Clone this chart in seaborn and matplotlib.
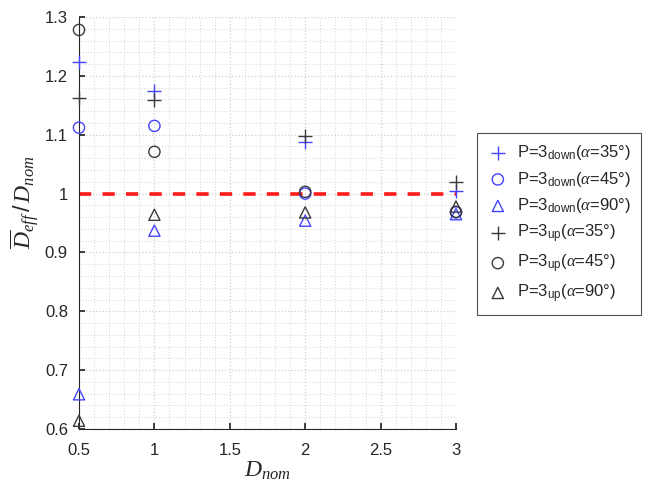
import numpy as np
import pandas as pd
import matplotlib
matplotlib.use("Agg")
import matplotlib.pyplot as plt
import seaborn as sns
from matplotlib.ticker import MultipleLocator

sns.set_theme(style="white")
plt.rcParams['font.family'] = ['Liberation Sans', 'DejaVu Sans']
plt.rcParams['mathtext.fontset'] = 'custom'
plt.rcParams['mathtext.rm'] = 'Liberation Sans'
plt.rcParams['mathtext.it'] = 'Liberation Serif:italic'
plt.rcParams['mathtext.bf'] = 'Liberation Sans:bold'

# Data
d_nom = [0.5, 1, 2, 3]
down_35 = [1.224, 1.175, 1.088, 1.005]
down_45 = [1.112, 1.115, 1.000, 0.968]
down_90 = [0.659, 0.937, 0.954, 0.965]
up_35 = [1.163, 1.159, 1.097, 1.019]
up_45 = [1.278, 1.071, 1.003, 0.969]
up_90 = [0.614, 0.964, 0.968, 0.978]

labels = [r'P=3$_{\mathrm{down}}$($\alpha$=35°)',
          r'P=3$_{\mathrm{down}}$($\alpha$=45°)',
          r'P=3$_{\mathrm{down}}$($\alpha$=90°)',
          r'P=3$_{\mathrm{up}}$($\alpha$=35°)',
          r'P=3$_{\mathrm{up}}$($\alpha$=45°)',
          r'P=3$_{\mathrm{up}}$($\alpha$=90°)']
series = [down_35, down_45, down_90, up_35, up_45, up_90]
blue = '#4444ff'
dark = '#3a3a3a'
colors = [blue, blue, blue, dark, dark, dark]
markers = ['+', 'o', '^', '+', 'o', '^']

fig = plt.figure(figsize=(6.49, 4.82), dpi=100)
ax = fig.add_axes([79 / 649, 1 - 429 / 482, 377 / 649, 412 / 482])

for vals, lab, c, m in zip(series, labels, colors, markers):
    df = pd.DataFrame({'x': d_nom, 'y': vals})
    if m == '+':
        sns.scatterplot(data=df, x='x', y='y', ax=ax, marker=m, color=c,
                        s=90, linewidth=1.0, label=lab, clip_on=False,
                        zorder=3)
    else:
        sns.scatterplot(data=df, x='x', y='y', ax=ax, marker=m, color=c,
                        facecolor='none', edgecolor=c, s=65, linewidth=1.0,
                        label=lab, clip_on=False, zorder=3)

ax.axhline(1.0, color='#ff1a1a', ls=(0, (3.4, 3.1)), lw=2.6, zorder=2)

ax.set_xlim(0.5, 3)
ax.set_ylim(0.6, 1.3)
ax.xaxis.set_minor_locator(MultipleLocator(0.1))
ax.yaxis.set_minor_locator(MultipleLocator(0.02))
ax.set_xticks([0.5, 1, 1.5, 2, 2.5, 3])
ax.set_xticklabels(['0.5', '1', '1.5', '2', '2.5', '3'])
ax.set_yticks([0.6, 0.7, 0.8, 0.9, 1.0, 1.1, 1.2, 1.3])
ax.set_yticklabels(['0.6', '0.7', '0.8', '0.9', '1', '1.1', '1.2', '1.3'])
ax.grid(True, which='major', color='#d0d0d0', ls=':', lw=0.9)
ax.grid(True, which='minor', color='#dcdcdc', ls=':', lw=0.8)
ax.set_axisbelow(True)

for s in ['top', 'right']:
    ax.spines[s].set_visible(False)
for s in ['left', 'bottom']:
    ax.spines[s].set_color('#262626')
    ax.spines[s].set_linewidth(0.8)
ax.tick_params(axis='x', which='major', direction='in', length=4,
               labelsize=12, colors='#262626', bottom=True, pad=10)
ax.tick_params(axis='y', which='major', direction='in', length=4,
               labelsize=12, colors='#262626', left=True, pad=8)
ax.tick_params(axis='both', which='minor', length=0)

ax.set_xlabel(r'$D_{nom}$', fontsize=17)
ax.xaxis.set_label_coords(0.5, -0.075)
ax.set_ylabel(r'$\overline{D}_{eff}\,/\,D_{nom}$', fontsize=17)
ax.yaxis.set_label_coords(-0.10, 0.55)

leg = ax.legend(loc='center left', bbox_to_anchor=(477 / 649, 1 - 224 / 482),
                bbox_transform=fig.transFigure, fontsize=12, frameon=True,
                fancybox=False, edgecolor='#262626', handletextpad=0.5,
                labelspacing=0.45, borderpad=0.6, handlelength=1.3,
                borderaxespad=0)
leg.get_frame().set_linewidth(0.8)

fig.savefig('out.png', dpi=100)
